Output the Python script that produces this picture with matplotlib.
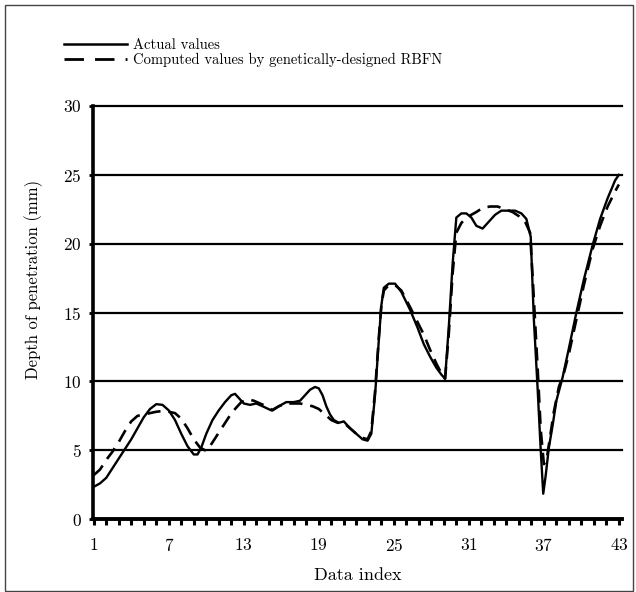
import numpy as np
import matplotlib.pyplot as plt
from matplotlib.lines import Line2D
from matplotlib.patches import Rectangle

plt.rcParams['font.family'] = ['cmr10', 'DejaVu Serif']
plt.rcParams['axes.formatter.use_mathtext'] = True

# actual values (x = data index)
actual_x = [1.0, 1.5, 2.0, 2.5, 3.0, 3.5, 4.0, 4.5, 5.0, 5.5, 6.0, 6.5, 7.0, 7.5, 8.0, 8.5,
            9.0, 9.3, 9.6, 10.0, 10.5, 11.0, 11.5, 12.0, 12.3, 12.7, 13.0, 13.5, 14.0, 14.5,
            15.2, 15.8, 16.4, 17.0, 17.5, 17.9, 18.3, 18.7, 19.0, 19.3, 19.6, 19.9, 20.2, 20.6,
            21.0, 21.5, 22.0, 22.5, 22.9, 23.2, 23.5, 23.8, 24.0, 24.2, 24.6, 25.1, 25.6, 26.3,
            26.9, 27.4, 27.9, 28.4, 28.8, 29.1, 29.4, 29.7, 30.0, 30.4, 30.8, 31.2, 31.6,
            32.1, 32.6, 33.1, 33.6, 34.1, 34.7, 35.2, 35.6, 35.95, 36.2, 36.5, 36.75, 36.95,
            37.15, 37.4, 37.7, 38.0, 38.5, 39.0, 39.6, 40.2, 40.9, 41.5, 42.1, 42.7, 43.0]
actual_y = [2.35, 2.6, 3.0, 3.7, 4.4, 5.1, 5.8, 6.6, 7.4, 8.0, 8.35, 8.3, 7.9, 7.2, 6.2, 5.3,
            4.7, 4.7, 5.2, 6.2, 7.2, 7.9, 8.5, 9.0, 9.1, 8.7, 8.4, 8.3, 8.4, 8.2,
            7.9, 8.2, 8.5, 8.5, 8.6, 9.0, 9.4, 9.6, 9.5, 9.0, 8.2, 7.6, 7.2, 7.0,
            7.1, 6.6, 6.2, 5.8, 5.7, 6.2, 9.0, 13.0, 15.5, 16.8, 17.1, 17.1, 16.5, 15.2,
            13.9, 12.7, 11.8, 11.0, 10.5, 10.2, 14.0, 18.5, 21.9, 22.2, 22.2, 21.9, 21.3,
            21.1, 21.6, 22.1, 22.4, 22.4, 22.4, 22.2, 21.8, 20.5, 14.5, 9.5, 5.0, 1.85,
            3.2, 5.2, 6.8, 8.6, 10.3, 12.4, 15.0, 17.4, 19.9, 21.8, 23.3, 24.6, 25.0]

# computed values by the RBFN
rbfn_x = [1.0, 1.5, 2.0, 2.5, 3.0, 3.5, 4.0, 4.5, 5.0, 5.5, 6.0, 6.5, 7.0, 7.5, 8.0, 8.5,
          9.0, 9.5, 9.9, 10.3, 10.8, 11.3, 11.8, 12.3, 12.8, 13.3, 13.8, 14.3, 14.8, 15.3,
          15.8, 16.4, 17.0, 17.5, 18.0, 18.5, 19.0, 19.5, 20.0, 20.5, 21.0, 21.5, 22.0,
          22.5, 22.9, 23.2, 23.5, 23.8, 24.0, 24.2, 24.6, 25.1, 25.6, 26.3, 26.9, 27.4, 27.9,
          28.4, 28.8, 29.1, 29.4, 29.7, 30.0, 30.4, 30.8, 31.2, 31.6, 32.1, 32.7, 33.3,
          33.9, 34.5, 35.0, 35.5, 35.9, 36.2, 36.5, 36.75, 37.0, 37.2, 37.5, 37.8, 38.2,
          38.6, 39.0, 39.6, 40.2, 40.9, 41.5, 42.1, 42.7, 43.0]
rbfn_y = [3.2, 3.6, 4.3, 4.9, 5.6, 6.4, 7.1, 7.5, 7.6, 7.7, 7.8, 7.85, 7.8, 7.7, 7.3, 6.6,
          5.8, 5.2, 5.0, 5.3, 6.0, 6.7, 7.4, 8.0, 8.5, 8.7, 8.6, 8.4, 8.2, 7.9,
          8.2, 8.4, 8.4, 8.4, 8.3, 8.2, 8.0, 7.6, 7.2, 7.0, 7.0, 6.6, 6.2,
          5.9, 5.8, 6.4, 9.3, 13.2, 15.5, 16.6, 17.0, 17.0, 16.6, 15.4, 14.3, 13.4, 12.3,
          11.3, 10.6, 10.2, 13.5, 17.8, 20.8, 21.5, 21.9, 22.1, 22.3, 22.6, 22.7, 22.7,
          22.5, 22.3, 22.0, 21.6, 20.8, 16.0, 11.0, 6.5, 4.0, 4.2, 6.0, 7.8, 9.6,
          10.6, 12.0, 14.5, 17.0, 19.6, 21.3, 22.7, 23.8, 24.3]

xticks = [1, 7, 13, 19, 25, 31, 37, 43]
yticks = [0, 5, 10, 15, 20, 25, 30]

fig = plt.figure(figsize=(6.36, 5.92), dpi=100)
ax = fig.add_axes([0.146, 0.123, 0.832, 0.698])

for g in yticks[1:]:
    ax.axhline(g, color='black', lw=1.6, zorder=1, clip_on=False)

ax.plot(actual_x, actual_y, color='black', lw=1.7, zorder=3)
ax.plot(rbfn_x, rbfn_y, color='black', lw=1.9, ls=(0, (5, 3)), zorder=3)

ax.set_xlim(0.93, 43.25)
ax.set_ylim(0, 30)
ax.set_xticks(xticks)
ax.set_xticks(np.arange(1, 44), minor=True)
ax.set_yticks(yticks)
ax.tick_params(axis='x', which='both', direction='out', length=4, width=2.2, pad=9, labelsize=12.5)
ax.tick_params(axis='y', direction='out', length=3, width=2, pad=5, labelsize=12.5)

for s in ['top', 'right']:
    ax.spines[s].set_visible(False)
ax.spines['left'].set_linewidth(2.6)
ax.spines['bottom'].set_linewidth(2.8)

ax.set_xlabel('Data index', fontsize=13, labelpad=10)
ax.set_ylabel('Depth of penetration (mm)', fontsize=12)
ax.yaxis.set_label_coords(-0.095, 0.58)

handles = [Line2D([], [], color='black', lw=1.8),
           Line2D([], [], color='black', lw=2.0, ls=(0, (7, 4)))]
fig.legend(handles, ['Actual values', 'Computed values by genetically-designed RBFN'],
           loc='upper left', bbox_to_anchor=(0.08, 0.958), frameon=False,
           fontsize=10.5, handlelength=4.3, handletextpad=0.45, labelspacing=0.1)

fig.add_artist(Rectangle((0.008, 0.002), 0.987, 0.99, transform=fig.transFigure,
                         fill=False, edgecolor='#444444', lw=1))

fig.savefig('out.png', dpi=100)
